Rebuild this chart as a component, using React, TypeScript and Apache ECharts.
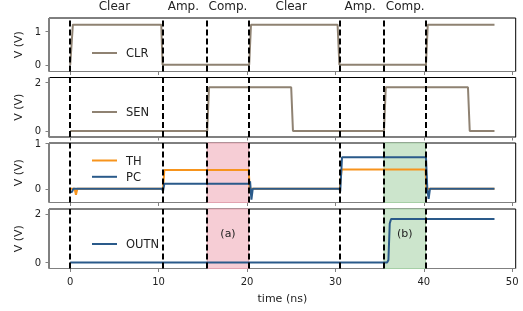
import React, { useEffect, useRef } from 'react';
import * as echarts from 'echarts';

// ---- data ----
const xTicks = [0, 10, 20, 30, 40, 50];
const phaseNames = ['Clear', 'Amp.', 'Comp.', 'Clear', 'Amp.', 'Comp.'];
const phaseCenters = [5.0, 12.8, 17.85, 25.0, 32.8, 37.9];
const phaseBounds = [0, 10.5, 15.5, 20.2, 30.5, 35.5, 40.2];
const regionA = [15.5, 20.2];
const regionB = [35.5, 40.2];
const regionLabels = ['(a)', '(b)'];

const clrT = [0, 0.3, 10.3, 10.45, 20.25, 20.45, 30.25, 30.45, 40.25, 40.45, 48];
const clrV = [0, 1.2, 1.2, 0, 0, 1.2, 1.2, 0, 0, 1.2, 1.2];

const senT = [0, 15.5, 15.7, 25.0, 25.2, 35.5, 35.7, 45.0, 45.2, 48];
const senV = [0, 0, 1.8, 1.8, 0, 0, 1.8, 1.8, 0, 0];

const thT = [0, 0.5, 0.65, 0.8, 10.5, 10.65, 20.2, 20.3, 30.5, 30.7, 40.2, 40.3, 48];
const thV = [0, 0, -0.13, 0, 0, 0.41, 0.41, 0, 0, 0.42, 0.42, 0, 0];

const pcT = [0, 0.2, 0.35, 10.4, 10.5, 10.65, 20.25, 20.35, 20.5, 20.65, 30.45, 30.55, 30.75, 40.25, 40.4, 40.55, 40.7, 48];
const pcV = [-0.07, -0.07, 0, 0, -0.05, 0.11, 0.11, 0.16, -0.24, 0, 0, -0.06, 0.69, 0.69, 0.0, -0.22, 0, 0];

const outT = [0, 35.85, 36.0, 36.15, 36.3, 48];
const outV = [0, 0, 0.1, 1.6, 1.79, 1.79];

const yRanges = [[-0.2, 1.4], [-0.25, 2.2], [-0.3, 1], [-0.25, 2.2]];
const yTicks = [[0, 1], [0, 2], [0, 1], [0, 2]];

const xMin = -2.4;
const xMax = 50.4;

const pair = (t: number[], v: number[]) => t.map((x, i) => [x, v[i]]);

const FONT = 'DejaVu Sans';
const GRAY = '#808080';
const TEXT = '#222';
const TAN = '#8f8272';
const ORANGE = '#f7941d';
const BLUE = '#2a5a8a';

export default function App() {
  const ref = useRef<HTMLDivElement>(null);
  useEffect(() => {
    if (!ref.current) return;
    const chart = echarts.init(ref.current, null, { renderer: 'svg' });
    const tops = [12, 77.5, 143, 209];
    const grids = tops.map((t) => ({
      left: 49, right: 7.3, top: t, height: 59.5,
      show: true, borderColor: '#000', borderWidth: 1, backgroundColor: 'transparent',
    }));
    const xAxes: any[] = tops.map((_, i) => ({
      type: 'value', gridIndex: i, min: xMin, max: xMax,
      axisLine: { show: true, onZero: false, lineStyle: { color: GRAY, width: 1 } },
      axisTick: { show: true, length: 3.5, customValues: xTicks, lineStyle: { color: GRAY } },
      axisLabel: {
        show: i === 3, customValues: xTicks, fontSize: 10, color: TEXT, fontFamily: FONT, margin: 8,
      },
      splitLine: { show: false },
      name: i === 3 ? 'time (ns)' : '',
      nameLocation: 'middle', nameGap: 24,
      nameTextStyle: { fontSize: 11, color: TEXT, fontFamily: FONT },
    }));
    xAxes.push({
      type: 'value', gridIndex: 0, min: xMin, max: xMax, position: 'top',
      axisLine: { show: false }, axisTick: { show: false }, splitLine: { show: false },
      axisLabel: {
        show: true, customValues: phaseCenters, fontSize: 12, color: TEXT, fontFamily: FONT, margin: 6,
        formatter: (v: number) => {
          let best = 0;
          phaseCenters.forEach((c, k) => { if (Math.abs(c - v) < Math.abs(phaseCenters[best] - v)) best = k; });
          return phaseNames[best];
        },
      },
    });
    const yAxes = tops.map((_, i) => ({
      type: 'value', gridIndex: i, min: yRanges[i][0], max: yRanges[i][1],
      axisLine: { show: true, onZero: false, lineStyle: { color: GRAY, width: 1 } },
      axisTick: { show: true, length: 3.5, customValues: yTicks[i], lineStyle: { color: GRAY } },
      axisLabel: { customValues: yTicks[i], fontSize: 10, color: TEXT, fontFamily: FONT, margin: 8 },
      splitLine: { show: false },
      name: 'V (V)', nameLocation: 'middle', nameGap: 19,
      nameTextStyle: { fontSize: 11, color: TEXT, fontFamily: FONT },
    }));

    const lineSeries = (name: string, t: number[], v: number[], color: string, gi: number) => ({
      type: 'line', name, xAxisIndex: gi, yAxisIndex: gi, data: pair(t, v),
      symbol: 'none', showSymbol: false, z: 3,
      lineStyle: { color, width: 2 }, itemStyle: { color },
    });

    const dashSeries = (gi: number) => ({
      type: 'line', xAxisIndex: gi, yAxisIndex: gi, data: [], z: 6, silent: true,
      markLine: {
        silent: true, symbol: ['none', 'none'], label: { show: false },
        lineStyle: { color: '#000', width: 2, type: [6, 3] },
        data: phaseBounds.map((x) => ({ xAxis: x })),
      },
    });

    const areaSeries = (gi: number, withLabel: boolean) => ({
      type: 'line', xAxisIndex: gi, yAxisIndex: gi, data: [], z: 1, silent: true,
      markArea: {
        silent: true,
        label: {
          show: withLabel, position: 'inside', offset: [0, -5], fontSize: 11, color: TEXT, fontFamily: FONT,
        },
        data: [
          [{ name: regionLabels[0], xAxis: regionA[0], itemStyle: { color: '#f6cdd5', borderColor: '#e2a3b0', borderWidth: 1 } }, { xAxis: regionA[1] }],
          [{ name: regionLabels[1], xAxis: regionB[0], itemStyle: { color: '#cce5cc', borderColor: '#a6cfa6', borderWidth: 1 } }, { xAxis: regionB[1] }],
        ],
      },
    });

    const legendBase = {
      itemWidth: 25, itemHeight: 14, selectedMode: false,
      itemStyle: { opacity: 0, borderWidth: 0 },
      textStyle: { fontSize: 11.5, color: TEXT, fontFamily: FONT, padding: [0, 0, 0, 4] },
    };

    chart.setOption({
      animation: false,
      grid: grids,
      xAxis: xAxes,
      yAxis: yAxes,
      legend: [
        { ...legendBase, data: ['CLR'], left: 86, top: 42 },
        { ...legendBase, data: ['SEN'], left: 86, top: 101 },
        { ...legendBase, data: ['TH', 'PC'], left: 86, top: 149.5, orient: 'vertical', itemGap: 4.3 },
        { ...legendBase, data: ['OUTN'], left: 86, top: 233 },
      ],
      series: [
        areaSeries(2, false),
        areaSeries(3, true),
        lineSeries('CLR', clrT, clrV, TAN, 0),
        lineSeries('SEN', senT, senV, TAN, 1),
        lineSeries('TH', thT, thV, ORANGE, 2),
        lineSeries('PC', pcT, pcV, BLUE, 2),
        lineSeries('OUTN', outT, outV, BLUE, 3),
        dashSeries(0), dashSeries(1), dashSeries(2), dashSeries(3),
      ],
    });
    return () => chart.dispose();
  }, []);
  return <div ref={ref} style={{ position: 'fixed', left: 0, top: 0, width: 523, height: 311 }} />;
}
